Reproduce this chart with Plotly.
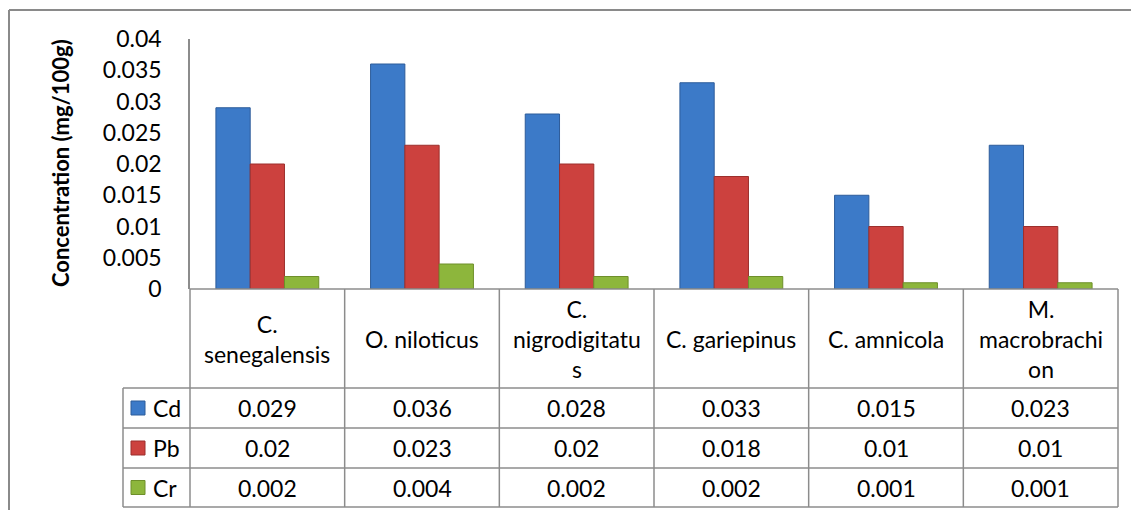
import plotly.graph_objects as go

# ---- data ----
categories = ["C. senegalensis", "O. niloticus", "C. nigrodigitatus",
              "C. gariepinus", "C. amnicola", "M. macrobrachion"]
header_labels = ["C.<br>senegalensis", "O. niloticus", "C.<br>nigrodigitatu<br>s",
                 "C. gariepinus", "C. amnicola", "M.<br>macrobrachi<br>on"]
series_names = ["Cd", "Pb", "Cr"]
cd = [0.029, 0.036, 0.028, 0.033, 0.015, 0.023]
pb = [0.02, 0.023, 0.02, 0.018, 0.01, 0.01]
cr = [0.002, 0.004, 0.002, 0.002, 0.001, 0.001]
cd_txt = ["0.029", "0.036", "0.028", "0.033", "0.015", "0.023"]
pb_txt = ["0.02", "0.023", "0.02", "0.018", "0.01", "0.01"]
cr_txt = ["0.002", "0.004", "0.002", "0.002", "0.001", "0.001"]
y_title = "Concentration (mg/100g)"

colors = ["#3C7AC8", "#CC413E", "#8DB63C"]
edge = ["#2D5C9A", "#9C2F2C", "#6E8F2A"]

# ---- layout geometry (pixels) ----
W, H = 1131, 510
L, R, T, B = 190, 1118, 39, 289


def px(x):
    return (x - L) / (R - L)


def py(y):
    return (B - y) / (B - T)


FONT = "Lato"
FS = 23
grid = "#8C8C8C"

fig = go.Figure()
for name, vals, c, e in zip(series_names, [cd, pb, cr], colors, edge):
    fig.add_trace(go.Bar(x=categories, y=vals, name=name,
                         marker=dict(color=c, line=dict(color=e, width=1))))

shapes = []
# outer chart border
shapes.append(dict(type="line", xref="paper", yref="paper",
                   x0=px(9), x1=px(1140), y0=py(10), y1=py(10),
                   line=dict(color="#8A8A8A", width=2)))
shapes.append(dict(type="line", xref="paper", yref="paper",
                   x0=px(9), x1=px(9), y0=py(10), y1=py(520),
                   line=dict(color="#8A8A8A", width=2)))

# table lines
row_y = [289, 388, 428, 468, 507]
for i, yy in enumerate(row_y):
    x0 = L if i == 0 else 123
    shapes.append(dict(type="line", xref="paper", yref="paper",
                       x0=px(x0), x1=px(R), y0=py(yy), y1=py(yy),
                       line=dict(color=grid, width=1.5)))
ncat = len(categories)
for k in range(ncat + 1):
    xx = L + k * (R - L) / ncat
    shapes.append(dict(type="line", xref="paper", yref="paper",
                       x0=px(xx), x1=px(xx), y0=py(289), y1=py(507),
                       line=dict(color=grid, width=1.5)))
shapes.append(dict(type="line", xref="paper", yref="paper",
                   x0=px(123), x1=px(123), y0=py(388), y1=py(507),
                   line=dict(color=grid, width=1.5)))

annotations = []
# header labels
for cat, lab in zip(categories, header_labels):
    annotations.append(dict(x=cat, xref="x", y=py(338.5), yref="paper",
                            text=lab, showarrow=False, xanchor="center",
                            yanchor="middle", align="center",
                            font=dict(family=FONT, size=FS, color="black")))
# value rows + legend keys
row_centers = [408, 448, 487.5]
for (name, txts, c, e, yc) in zip(series_names, [cd_txt, pb_txt, cr_txt],
                                   colors, edge, row_centers):
    for cat, t in zip(categories, txts):
        annotations.append(dict(x=cat, xref="x", y=py(yc), yref="paper",
                                text=t, showarrow=False, xanchor="center",
                                yanchor="middle",
                                font=dict(family=FONT, size=FS, color="black")))
    shapes.append(dict(type="rect", xref="paper", yref="paper",
                       x0=px(131), x1=px(145), y0=py(yc - 7), y1=py(yc + 7),
                       fillcolor=c, line=dict(color=e, width=1)))
    annotations.append(dict(x=px(151), xref="paper", y=py(yc), yref="paper",
                            text=name, showarrow=False, xanchor="left",
                            yanchor="middle",
                            font=dict(family=FONT, size=FS, color="black")))

# y-axis title
annotations.append(dict(x=px(60), xref="paper", y=py(163), yref="paper",
                        text="<b>" + y_title + "</b>", textangle=-90,
                        showarrow=False, xanchor="center", yanchor="middle",
                        font=dict(family=FONT, size=22, color="black")))

fig.update_layout(
    width=W, height=H,
    margin=dict(l=L, r=W - R, t=T, b=H - B, pad=0),
    paper_bgcolor="white", plot_bgcolor="white",
    barmode="group", bargap=0.335, bargroupgap=0,
    showlegend=False,
    shapes=shapes, annotations=annotations,
    font=dict(family=FONT, size=FS, color="black"),
    xaxis=dict(showticklabels=False, showline=False, showgrid=False,
               zeroline=False, ticks=""),
    yaxis=dict(range=[0, 0.04], dtick=0.005, tick0=0, showgrid=False,
               zeroline=False, showline=True, linecolor=grid, linewidth=1.5,
               ticks="", ticklabelstandoff=22,
               tickfont=dict(family=FONT, size=FS, color="black")),
)

fig.write_html("out.html",
               config={"displayModeBar": False},
               post_script="document.body.style.margin='0';"
                           "document.body.style.overflow='hidden';")
